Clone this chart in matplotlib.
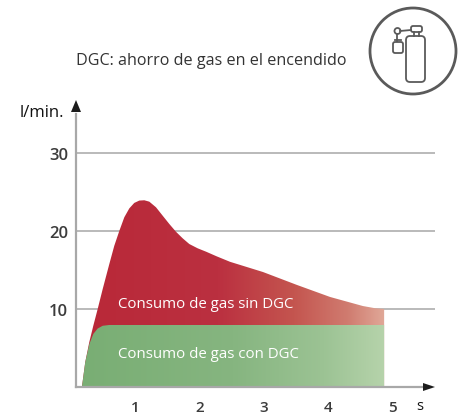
import matplotlib
matplotlib.use("Agg")
import matplotlib.pyplot as plt
import numpy as np
from matplotlib.colors import LinearSegmentedColormap
from matplotlib.patches import Circle, FancyBboxPatch, Polygon

plt.rcParams['font.family'] = ['Open Sans', 'DejaVu Sans']

# values
sinTime = [0.17, 0.222, 0.285, 0.347, 0.415, 0.493, 0.596, 0.673, 0.751, 0.829, 0.907, 0.984, 1.062, 1.14,
           1.218, 1.322, 1.426, 1.529, 1.633, 1.737, 1.84, 1.97, 2.1, 2.266, 2.473, 2.986, 3.515, 4.03, 4.54,
           4.73, 4.87]
sinFlow = [0.0, 3.2, 5.77, 7.86, 10.0, 12.56, 15.77, 18.1, 20.0, 21.76, 22.9, 23.6, 23.9, 23.94,
           23.76, 23.04, 21.96, 20.9, 19.9, 19.06, 18.33, 17.78, 17.35, 16.75, 16.05, 14.74, 13.08, 11.54, 10.38,
           10.1, 10.0]
conTime = [0.17, 0.222, 0.285, 0.347, 0.415, 0.493, 0.596, 4.87]
conFlow = [0.0, 3.2, 5.5, 6.8, 7.5, 7.85, 7.95, 7.95]
yTicks = [10, 20, 30]
xTicks = [1, 2, 3, 4, 5]

redStops = [(0.0, '#b92838'), (0.45, '#bb3040'), (0.7, '#c4554f'), (0.88, '#d07c70'), (1.0, '#e0a898')]
greenStops = [(0.0, '#79ae74'), (0.5, '#86b580'), (0.8, '#9cc394'), (1.0, '#b6d3ab')]

fig = plt.figure(figsize=(4.6, 4.14), dpi=100)
ax = fig.add_axes([0, 0, 1, 1])
ax.axis('off')

# scale: x=0 at 71 px, 64.3 px per second; y=0 at 388 px, 7.8 px per l/min
xlim = (-71 / 64.3, (460 - 71) / 64.3)
ylim = (-(414 - 388) / 7.8, 388 / 7.8)
axisX = (76 - 71) / 64.3

for t in yTicks:
    ax.plot([axisX, (435 - 71) / 64.3], [t, t], color='#b4b4b4', lw=1.3, zorder=1, solid_capstyle='butt')
    # labels sit about 2 px below their lines
    ax.text((68 - 71) / 64.3, t - 0.27, str(t), ha='right', va='center', fontsize=12, fontweight='semibold', color='#3c3c3c')

def gradientFill(times, flows, stops):
    cmap = LinearSegmentedColormap.from_list('g', stops)
    grad = np.linspace(0, 1, 256).reshape(1, -1)
    im = ax.imshow(grad, cmap=cmap, aspect='auto', extent=(times[0], times[-1], 0, max(flows)), zorder=2)
    verts = list(zip(times, flows)) + [(times[-1], 0)]
    poly = Polygon(verts, closed=True, transform=ax.transData, fc='none', ec='none')
    ax.add_patch(poly)
    im.set_clip_path(poly)

gradientFill(sinTime, sinFlow, redStops)
gradientFill(conTime, conFlow, greenStops)

ax.set_xlim(xlim)
ax.set_ylim(ylim)

# axes lines
ax.plot([axisX, axisX], [0, 35], color='#a8a8a8', lw=1.6, zorder=3)
ax.plot([axisX, 5.6], [0, 0], color='#a8a8a8', lw=1.6, zorder=3)

for t in xTicks:
    ax.text(t, -2.55, str(t), ha='center', va='center', fontsize=11, fontweight='semibold', color='#3c3c3c')
ax.text((420 - 71) / 64.3, -2.4, 's', ha='center', va='center', fontsize=10.5, color='#111111')

ax.text(118 / 460, 1 - 305 / 414, 'Consumo de gas sin DGC', transform=ax.transAxes, ha='left', va='center', fontsize=10.85, color='white', zorder=5)
ax.text(118 / 460, 1 - 355 / 414, 'Consumo de gas con DGC', transform=ax.transAxes, ha='left', va='center', fontsize=10.85, color='white', zorder=5)
ax.text(20 / 460, 1 - 113 / 414, 'l/min.', transform=ax.transAxes, ha='left', va='center', fontsize=12, color='#111111')
ax.text(76 / 460, 1 - 61 / 414, 'DGC: ahorro de gas en el encendido', transform=ax.transAxes, ha='left', va='center', fontsize=11.6, color='#333333')

# arrow heads and gas bottle icon, drawn in pixel coordinates
ico = fig.add_axes([0, 0, 1, 1])
ico.set_xlim(0, 460)
ico.set_ylim(414, 0)
ico.axis('off')
ico.patch.set_alpha(0)
ico.add_patch(Polygon([(76, 101), (71, 113), (81, 113)], closed=True, fc='#1c1c1c', ec='none'))
ico.add_patch(Polygon([(435, 388), (423, 384), (423, 392)], closed=True, fc='#1c1c1c', ec='none'))

iconColor = '#5a5a5a'
ico.add_patch(Circle((413, 52), 43, fc='none', ec=iconColor, lw=2))
def roundBox(x0, y0, w, h, r):
    ico.add_patch(FancyBboxPatch((x0 + r, y0 + r), w - 2 * r, h - 2 * r, boxstyle=f'round,pad={r},rounding_size={r}',
                                 fc='none', ec=iconColor, lw=1.3))
roundBox(406, 37, 19, 46, 4)
roundBox(411, 27, 11, 6, 2)
roundBox(393, 43, 10, 11, 2)
ico.plot([414, 414], [33, 37], color=iconColor, lw=1.3)
ico.plot([419, 419], [33, 37], color=iconColor, lw=1.3)
ico.plot([400, 411], [32, 31], color=iconColor, lw=1.3)
ico.plot([397.5, 397.5], [35, 42], color=iconColor, lw=1.3)
ico.plot([395, 401], [41, 41], color=iconColor, lw=1.3)
ico.add_patch(Circle((397.5, 32), 3, fc='white', ec=iconColor, lw=1.3))

fig.savefig('out.png', dpi=100)
